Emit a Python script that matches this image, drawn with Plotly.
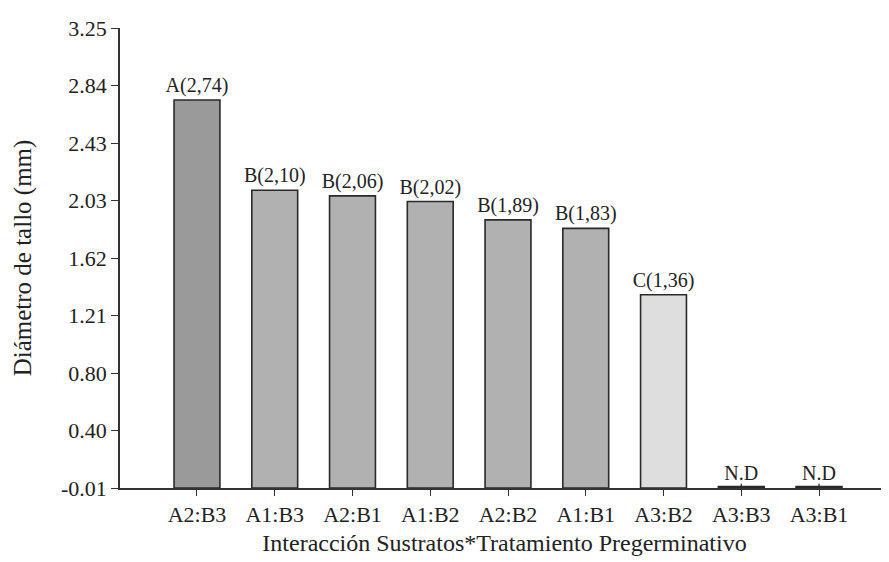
import plotly.graph_objects as go

categories = ["A2:B3", "A1:B3", "A2:B1", "A1:B2", "A2:B2", "A1:B1", "A3:B2", "A3:B3", "A3:B1"]
values = [2.74, 2.10, 2.06, 2.02, 1.89, 1.83, 1.36, 0.0, 0.0]
labels = ["A(2,74)", "B(2,10)", "B(2,06)", "B(2,02)", "B(1,89)", "B(1,83)", "C(1,36)", "N.D", "N.D"]
colors = ["#9a9a9a", "#b1b1b1", "#b1b1b1", "#b1b1b1", "#b1b1b1", "#b1b1b1", "#dedede", "#b1b1b1", "#b1b1b1"]
tick_vals = [-0.01, 0.3975, 0.805, 1.2125, 1.62, 2.0275, 2.435, 2.8425, 3.25]
tick_text = ["-0.01", "0.40", "0.80", "1.21", "1.62", "2.03", "2.43", "2.84", "3.25"]
y_base = -0.01

font_family = "Liberation Serif"

fig = go.Figure()
fig.add_trace(go.Bar(
    x=categories,
    y=[v - y_base for v in values],
    base=y_base,
    width=0.59,
    marker=dict(color=colors, line=dict(color="#2a2a2a", width=1.6)),
    error_y=dict(type="data", symmetric=True,
                 array=[0.02 if v == 0 else 0 for v in values],
                 color="#2a2a2a", thickness=1.3, width=0),
    text=labels,
    textposition="outside",
    constraintext="none",
    cliponaxis=False,
    textfont=dict(family=font_family, size=20, color="#222"),
    showlegend=False,
))

fig.update_layout(
    width=889, height=562,
    margin=dict(l=112, r=8, t=13, b=82),
    plot_bgcolor="white", paper_bgcolor="white",
    font=dict(family=font_family, color="#222"),
    uniformtext=dict(minsize=20, mode="show"),
)
fig.update_xaxes(
    range=[-0.99, 8.9],
    showline=True, linecolor="#333", linewidth=1.5,
    ticks="outside", ticklen=6, tickcolor="#333", tickwidth=1.3,
    tickfont=dict(family=font_family, size=22, color="#222"),
    showgrid=False, zeroline=False,
    title=dict(text="Interacción Sustratos*Tratamiento Pregerminativo",
               font=dict(family=font_family, size=24, color="#222"), standoff=8),
)
fig.update_yaxes(
    range=[y_base, 3.25],
    tickvals=tick_vals, ticktext=tick_text,
    showline=True, linecolor="#333", linewidth=1.5,
    ticks="outside", ticklen=7, tickcolor="#333", tickwidth=1.3,
    tickfont=dict(family=font_family, size=22, color="#222"),
    showgrid=False, zeroline=False,
    title=dict(text="Diámetro de tallo (mm)",
               font=dict(family=font_family, size=25, color="#222"), standoff=22),
)

fig.write_html("out.html")
